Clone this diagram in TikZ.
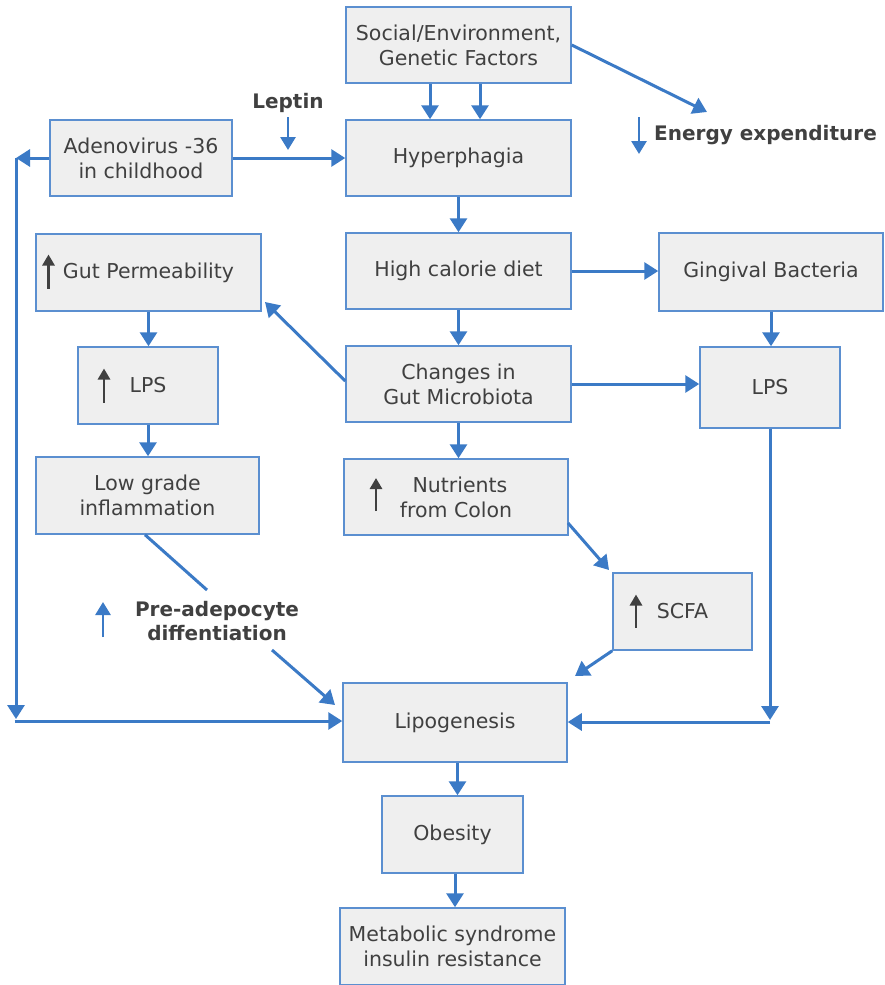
\documentclass[tikz,border=0pt]{standalone}
\usepackage{fontspec}
\setmainfont{DejaVu Sans}
\usetikzlibrary{arrows.meta}
\definecolor{boxline}{HTML}{5B8FD0}
\definecolor{boxfill}{HTML}{EFEFEF}
\definecolor{arrowblue}{HTML}{3B7AC6}
\definecolor{txt}{HTML}{404040}
\begin{document}
\begin{tikzpicture}[x=1pt,y=-1pt,
 box/.style={draw=boxline, line width=1.5pt, fill=boxfill, text=txt, align=center, inner sep=0pt, font=\fontsize{20.5}{25}\selectfont},
 arr/.style={draw=arrowblue, line width=3pt, -{Triangle[length=14pt,width=17pt]}},
 plainline/.style={draw=arrowblue, line width=3pt},
 lbl/.style={text=txt, font=\fontsize{20}{24}\selectfont\bfseries, align=center, inner sep=0pt},
 uparr/.style={draw=black!75, line width=2.8pt, -{Triangle[length=11pt,width=12pt]}},
 bluearr/.style={draw=arrowblue, line width=2.8pt, -{Triangle[length=13pt,width=15pt]}},
]
\useasboundingbox (0,0) rectangle (885,985);
\fill[white] (0,0) rectangle (885,985);

% boxes
\node[box, minimum width=225, minimum height=76] (social) at (458.5,45) {Social/Environment,\\Genetic Factors};
\node[box, minimum width=225, minimum height=76] (hyper) at (458.5,158) {Hyperphagia};
\node[box, minimum width=182, minimum height=76] (adeno) at (141,158) {Adenovirus -36\\in childhood};
\node[box, minimum width=225, minimum height=76] (hcd) at (458.5,271) {High calorie diet};
\node[box, minimum width=225, minimum height=77] (gut) at (148.5,272.5) {Gut Permeability};
\node[box, minimum width=224, minimum height=78] (ging) at (771,272) {Gingival Bacteria};
\node[box, minimum width=225, minimum height=76] (changes) at (458.5,384) {Changes in\\Gut Microbiota};
\node[box, minimum width=140, minimum height=77] (lpsl) at (148,385.5) {LPS};
\node[box, minimum width=140, minimum height=81] (lpsr) at (770,387.5) {LPS};
\node[box, minimum width=223, minimum height=77] (low) at (147.5,495.5) {Low grade\\inflammation};
\node[box, minimum width=224, minimum height=76] (nutr) at (456,497) {\hspace*{8pt}Nutrients\\from Colon};
\node[box, minimum width=139, minimum height=77] (scfa) at (682.5,611.5) {SCFA};
\node[box, minimum width=224, minimum height=79] (lipo) at (455,722.5) {Lipogenesis};
\node[box, minimum width=141, minimum height=77] (obes) at (452.5,834.5) {Obesity};
\node[box, minimum width=225, minimum height=77] (meta) at (452.5,946.5) {Metabolic syndrome\\insulin resistance};

% labels
\node[lbl] (leptin) at (288,103) {Leptin};
\node[lbl, anchor=west] (energy) at (654,135) {Energy expenditure};
\node[lbl] (preade) at (217,621) {Pre-adepocyte\\diffentiation};

% free coordinates
\coordinate (lt) at (288,117);
\coordinate (lb) at (288,150);
\coordinate (et) at (639,117);
\coordinate (eb) at (639,154);
\coordinate (ee) at (707,112);
\coordinate (cl) at (16,158);
\coordinate (cb) at (16,719);
\coordinate (gp) at (265,302);
\coordinate (pa1) at (207,590);
\coordinate (pa2) at (272,650);
\coordinate (pa3) at (335,705);
\coordinate (ns1) at (568,523);
\coordinate (ns2) at (609,570);
\coordinate (sl) at (575,676);
\coordinate (rb) at (770,720);
\coordinate (pu1) at (103,637);
\coordinate (pu2) at (103,602);

% connectors
\draw[arr] ([xshift=-28.5pt]social.south) -- ([xshift=-28.5pt]hyper.north);
\draw[arr] ([xshift=21.5pt]social.south) -- ([xshift=21.5pt]hyper.north);
\draw[arr] (social.east) -- (ee);
\draw[bluearr] (lt) -- (lb);
\draw[bluearr] (et) -- (eb);
\draw[arr] (adeno.east) -- (hyper.west);
\draw[arr] (adeno.west) -- (cl);
\draw[arr] (cl) -- (cb);
\draw[arr] ([xshift=-1.5pt,yshift=-2pt]cb) -- ([yshift=-2pt]cb -| lipo.west);
\draw[arr] (hyper.south) -- (hcd.north);
\draw[arr] (hcd.east) -- (hcd.east -| ging.west);
\draw[arr] (hcd.south) -- (changes.north);
\draw[arr] (ging.south) -- (ging.south |- lpsr.north);
\draw[arr] ([yshift=3pt]changes.west) -- (gp);
\draw[arr] (changes.east) -- (changes.east -| lpsr.west);
\draw[arr] (changes.south) -- (changes.south |- nutr.north);
\draw[arr] (gut.south) -- (gut.south |- lpsl.north);
\draw[arr] (lpsl.south) -- (lpsl.south |- low.north);
\draw[plainline] ([xshift=-2.5pt]low.south) -- (pa1);
\draw[arr] (pa2) -- (pa3);
\draw[arr] (ns1) -- (ns2);
\draw[arr] (scfa.south west) -- (sl);
\draw[arr] (lpsr.south) -- (rb);
\draw[arr] ([yshift=-2pt]rb) -- ([yshift=-2pt]rb -| lipo.east);
\draw[arr] ([xshift=2.5pt]lipo.south) -- ([xshift=2.5pt]lipo.south |- obes.north);
\draw[arr] ([xshift=2.5pt]obes.south) -- ([xshift=2.5pt]obes.south |- meta.north);
\draw[bluearr] (pu1) -- (pu2);

% up arrows inside boxes
\draw[uparr] ([shift={(-100,16)}]gut.center) -- ([shift={(-100,-18)}]gut.center);
\draw[uparr] ([shift={(-44,17)}]lpsl.center) -- ([shift={(-44,-17)}]lpsl.center);
\draw[uparr] ([shift={(-80,14)}]nutr.center) -- ([shift={(-80,-19)}]nutr.center);
\draw[uparr] ([shift={(-46.5,16)}]scfa.center) -- ([shift={(-46.5,-17)}]scfa.center);
\end{tikzpicture}
\end{document}
